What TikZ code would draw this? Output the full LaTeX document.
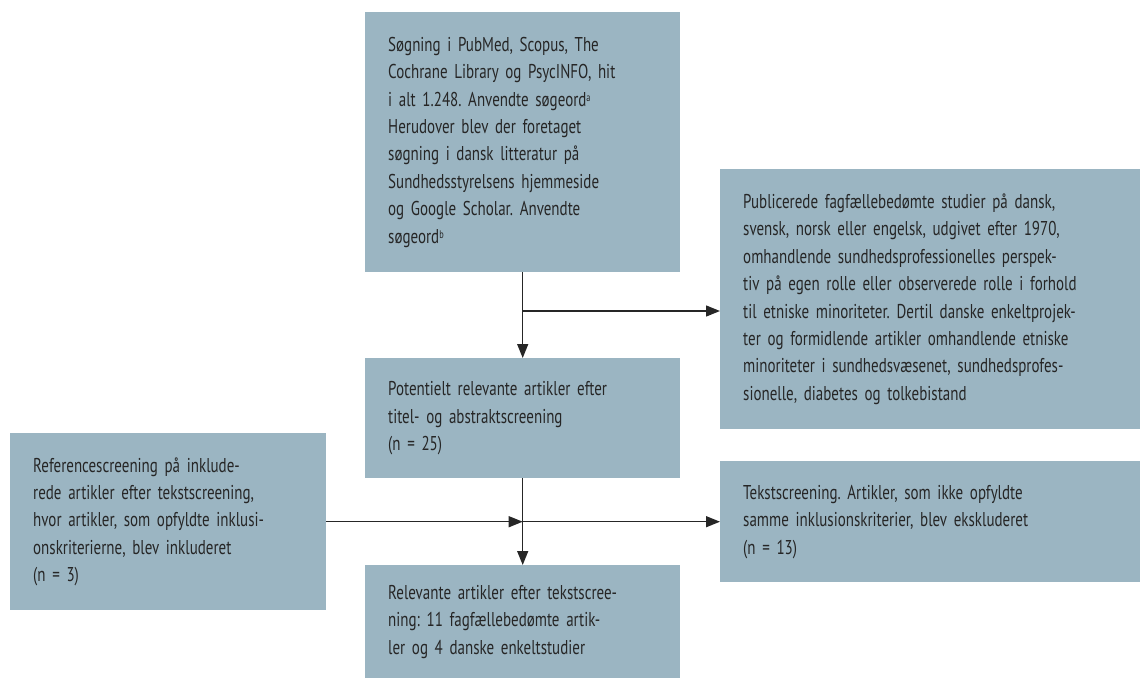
\documentclass[tikz,border=0pt]{standalone}
\usepackage{fontspec}
\setmainfont[FakeStretch=0.75]{PT Sans}
\usetikzlibrary{arrows.meta}
\definecolor{boxfill}{HTML}{9BB5C2}
\definecolor{ink}{HTML}{262626}
\frenchspacing
\newcommand\bxfont{\fontsize{20}{27.4}\selectfont\frenchspacing}
\newcommand\fnmark[1]{\raisebox{5pt}{\fontsize{11}{11}\selectfont #1}}
\tikzset{
  x=1pt, y=-1pt,
  flowbox/.style={draw=none, fill=boxfill, rectangle, anchor=north west,
    inner xsep=23pt, inner ysep=0pt, align=left, text=ink, font=\bxfont},
  conn/.style={draw=ink, line width=1.3pt, -{Triangle[length=14pt,width=11pt]}}
}
\begin{document}
\begin{tikzpicture}
\useasboundingbox (0,0) rectangle (1140,678);
\node[flowbox, minimum width=315pt, minimum height=260pt, text width=269pt] (search) at (365,12)
 {Søgning i PubMed, Scopus, The\\Cochrane Library og PsycINFO, hit\\i alt 1.248. Anvendte søgeord\fnmark{a}\\Herudover blev der foretaget\\søgning i dansk litteratur på\\Sundhedsstyrelsens hjemmeside\\og Google Scholar. Anvendte\\søgeord\fnmark{b}};
\node[flowbox, minimum width=315pt, minimum height=120pt, text width=269pt] (potential) at (365,358)
 {Potentielt relevante artikler efter\\titel- og abstraktscreening\\(n = 25)};
\node[flowbox, minimum width=315pt, minimum height=113pt, text width=269pt] (relevant) at (365,565)
 {Relevante artikler efter tekstscree-\\ning: 11 fagfællebedømte artik-\\ler og 4 danske enkeltstudier};
\node[flowbox, minimum width=420pt, minimum height=260pt, text width=374pt] (criteria) at (720,169)
 {Publicerede fagfællebedømte studier på dansk,\\svensk, norsk eller engelsk, udgivet efter 1970,\\omhandlende sundhedsprofessionelles perspek-\\tiv på egen rolle eller observerede rolle i forhold\\til etniske minoriteter. Dertil danske enkeltprojek-\\ter og formidlende artikler omhandlende etniske\\minoriteter i sundhedsvæsenet, sundhedsprofes-\\sionelle, diabetes og tolkebistand};
\node[flowbox, minimum width=420pt, minimum height=121pt, text width=374pt] (excluded) at (720,461)
 {Tekstscreening. Artikler, som ikke opfyldte\\samme inklusionskriterier, blev ekskluderet\\(n = 13)};
\node[flowbox, minimum width=316pt, minimum height=177pt, text width=270pt] (reference) at (10,433)
 {Referencescreening på inklude-\\rede artikler efter tekstscreening,\\hvor artikler, som opfyldte inklusi-\\onskriterierne, blev inkluderet\\(n = 3)};
\coordinate (j1) at (search.south |- 0,311);
\coordinate (j2) at (potential.south |- reference.east);
\draw[conn] (search.south) -- (potential.north);
\draw[conn] (j1) -- (j1 -| criteria.west);
\draw[conn] (potential.south) -- (relevant.north);
\draw[conn] (reference.east) -- (j2);
\draw[conn] (j2) -- (j2 -| excluded.west);
\end{tikzpicture}
\end{document}
